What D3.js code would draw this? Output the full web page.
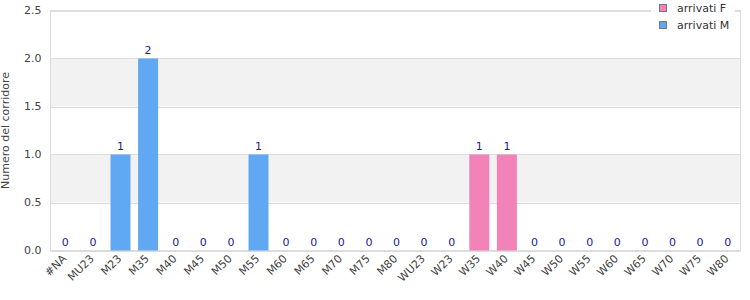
<!DOCTYPE html>
<html><head><meta charset="utf-8">
<script src="https://cdn.jsdelivr.net/npm/d3@7"></script>
<style>body{margin:0;background:#fff}svg{display:block;font-family:"DejaVu Sans",sans-serif}</style>
</head><body><svg id="c" width="750" height="300"></svg>
<script>
const categories = ["#NA","MU23","M23","M35","M40","M45","M50","M55","M60","M65","M70","M75","M80","WU23","W23","W35","W40","W45","W50","W55","W60","W65","W70","W75","W80"];
const arrivatiM = [0,0,1,2,0,0,0,1,0,0,0,0,0,0,0,0,0,0,0,0,0,0,0,0,0];
const arrivatiF = [0,0,0,0,0,0,0,0,0,0,0,0,0,0,0,1,1,0,0,0,0,0,0,0,0];
const yTicks = [0,0.5,1,1.5,2,2.5];
const seriesNames = ["arrivati F","arrivati M"];
const colors = {"arrivati F":"#f283b9","arrivati M":"#61a8f3"};

const svg = d3.select("#c");
const L=50.5,R=740.5,T=10.5,B=250.5;
const x = d3.scaleBand().domain(categories).range([L,R]).padding(0);
const y = d3.scaleLinear().domain([0,2.5]).range([B,T]);

// bands
for(let i=0;i<yTicks.length-1;i++){
  if(i%2===1){
    svg.append("rect").attr("x",L).attr("width",R-L)
      .attr("y",y(yTicks[i+1])).attr("height",y(yTicks[i])-y(yTicks[i+1])).attr("fill","#f2f2f2");
  }
}
// grid
svg.selectAll("line.g").data(yTicks).join("line").attr("class","g")
  .attr("x1",L).attr("x2",R).attr("y1",d=>Math.round(y(d))+0.5).attr("y2",d=>Math.round(y(d))+0.5)
  .attr("stroke","#dcdcdc");
svg.append("rect").attr("x",L).attr("y",T).attr("width",R-L).attr("height",B-T)
  .attr("fill","none").attr("stroke","#dcdcdc");

// y tick labels
svg.selectAll("text.yt").data(yTicks).join("text").attr("class","yt")
  .attr("x",L-9).attr("y",d=>y(d)).attr("dy","0.35em").attr("text-anchor","end")
  .attr("font-size",11).attr("fill","#444").text(d=>d3.format(".1f")(d));
svg.append("text").attr("transform",`translate(9,${(T+B)/2}) rotate(-90)`)
  .attr("text-anchor","middle").attr("font-size",11).attr("fill","#444").text("Numero del corridore");

// bars
const bw = 20;
const data = categories.map((c,i)=>({c,m:arrivatiM[i],f:arrivatiF[i]}));
data.forEach(d=>{
  const cx = x(d.c)+x.bandwidth()/2;
  let base=0;
  [["arrivati M",d.m],["arrivati F",d.f]].forEach(([s,v])=>{
    if(v>0){
      svg.append("rect").attr("x",cx-bw/2+1).attr("width",bw)
        .attr("y",y(base+v)).attr("height",y(base)-y(base+v)).attr("fill",colors[s]);
      base+=v;
    }
  });
});
svg.selectAll("text.v").data(data).join("text").attr("class","v")
  .attr("x",d=>x(d.c)+x.bandwidth()/2+1).attr("y",d=>y(d.m+d.f)-5)
  .attr("text-anchor","middle").attr("font-size",11).attr("fill","#1a1aa0")
  .text(d=>d.m+d.f);

// x tick labels
svg.selectAll("text.xt").data(categories).join("text").attr("class","xt")
  .attr("transform",d=>`translate(${x(d)+x.bandwidth()/2},${B+6}) rotate(-45)`)
  .attr("text-anchor","end").attr("dy","0.35em").attr("font-size",11).attr("fill","#444").text(d=>d);

// legend
const lg = svg.append("g");
lg.append("rect").attr("x",651).attr("y",0).attr("width",84).attr("height",34).attr("fill","#fff");
seriesNames.forEach((s,i)=>{
  lg.append("rect").attr("x",659.5).attr("y",4.5+i*17).attr("width",7).attr("height",7)
    .attr("fill",colors[s]).attr("stroke","#777");
  lg.append("text").attr("x",677).attr("y",8+i*17).attr("dy","0.35em").attr("font-size",11)
    .attr("fill","#333").text(s);
});
</script></body></html>
